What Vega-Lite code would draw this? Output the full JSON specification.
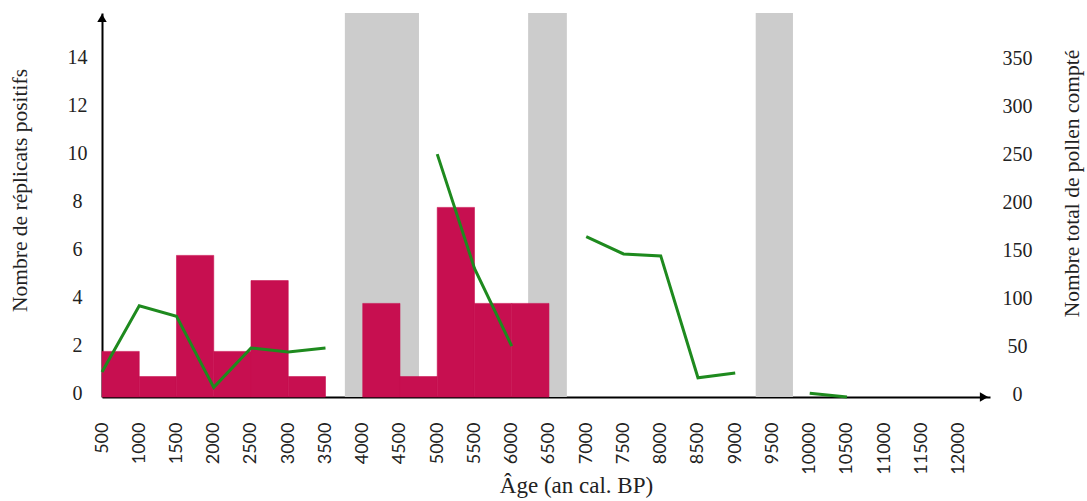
{
  "$schema": "https://vega.github.io/schema/vega-lite/v6.json",
  "width": 888,
  "height": 384,
  "autosize": "none",
  "padding": {"left": 102, "top": 13, "right": 97, "bottom": 104},
  "background": "white",
  "config": {
    "view": {"stroke": null},
    "font": "Liberation Serif",
    "axis": {
      "grid": false,
      "ticks": false,
      "domainColor": "black",
      "domainWidth": 2,
      "labelFont": "Liberation Serif",
      "titleFont": "Liberation Serif",
      "labelColor": "#222222",
      "titleColor": "#222222",
      "titleFontWeight": "normal"
    }
  },
  "datasets": {
    "bands": [
      {"start": 3760, "end": 4755},
      {"start": 6220, "end": 6740},
      {"start": 9275, "end": 9775}
    ],
    "bars": [
      {"start": 500, "end": 1000, "n": 1.9},
      {"start": 1000, "end": 1500, "n": 0.85},
      {"start": 1500, "end": 2000, "n": 5.9},
      {"start": 2000, "end": 2500, "n": 1.9},
      {"start": 2500, "end": 3000, "n": 4.85},
      {"start": 3000, "end": 3500, "n": 0.85},
      {"start": 4000, "end": 4500, "n": 3.9},
      {"start": 4500, "end": 5000, "n": 0.85},
      {"start": 5000, "end": 5500, "n": 7.9},
      {"start": 5500, "end": 6000, "n": 3.9},
      {"start": 6000, "end": 6500, "n": 3.9}
    ],
    "pollen": [
      {"start": 500, "pollen": 26, "seg": 1},
      {"start": 1000, "pollen": 95, "seg": 1},
      {"start": 1500, "pollen": 84, "seg": 1},
      {"start": 2000, "pollen": 10, "seg": 1},
      {"start": 2500, "pollen": 51, "seg": 1},
      {"start": 3000, "pollen": 47, "seg": 1},
      {"start": 3500, "pollen": 51, "seg": 1},
      {"start": 5000, "pollen": 253, "seg": 2},
      {"start": 5500, "pollen": 134, "seg": 2},
      {"start": 6000, "pollen": 53, "seg": 2},
      {"start": 7000, "pollen": 167, "seg": 3},
      {"start": 7500, "pollen": 149, "seg": 3},
      {"start": 8000, "pollen": 147, "seg": 3},
      {"start": 8500, "pollen": 20, "seg": 3},
      {"start": 9000, "pollen": 25, "seg": 3},
      {"start": 10000, "pollen": 4, "seg": 4},
      {"start": 10500, "pollen": 0, "seg": 4}
    ],
    "arrowY": [{"start": 500, "y": 16}],
    "arrowX": [{"start": 12420, "y": 0}]
  },
  "encoding": {
    "x": {
      "field": "start",
      "type": "quantitative",
      "scale": {"domain": [500, 12420], "nice": false, "zero": false},
      "axis": {
        "title": "Âge (an cal. BP)",
        "values": [500, 1000, 1500, 2000, 2500, 3000, 3500, 4000, 4500, 5000, 5500, 6000, 6500, 7000, 7500, 8000, 8500, 9000, 9500, 10000, 10500, 11000, 11500, 12000],
        "format": "d",
        "labelAngle": -90,
        "labelFont": "Lato",
        "labelFontSize": 18,
        "labelPadding": 25,
        "labelFlush": false,
        "labelOverlap": false,
        "titleFontSize": 23,
        "titleX": 474,
        "titleY": 88,
        "titleBaseline": "middle",
        "titleAlign": "center"
      }
    }
  },
  "layer": [
    {
      "data": {"name": "bands"},
      "mark": {"type": "rect", "color": "#cccccc"},
      "encoding": {"x2": {"field": "end"}}
    },
    {
      "data": {"name": "bars"},
      "mark": {"type": "rect", "color": "#c70f50", "stroke": "#c70f50", "strokeWidth": 0.6},
      "encoding": {
        "x2": {"field": "end"},
        "y": {
          "field": "n",
          "type": "quantitative",
          "scale": {"domain": [0, 16], "nice": false},
          "axis": {
            "orient": "left",
            "values": [0, 2, 4, 6, 8, 10, 12, 14],
            "title": "Nombre de réplicats positifs",
            "labelFontSize": 20,
            "labelAlign": "center",
            "labelPadding": 25,
            "labelOffset": -4,
            "titleFontSize": 21.5,
            "titleAngle": -90,
            "titleX": -82,
            "titleY": 177,
            "titleAlign": "center",
            "titleBaseline": "middle"
          }
        },
        "y2": {"datum": 0}
      }
    },
    {
      "data": {"name": "pollen"},
      "mark": {"type": "line", "color": "#1e8a1e", "strokeWidth": 3},
      "encoding": {
        "y": {
          "field": "pollen",
          "type": "quantitative",
          "scale": {"domain": [0, 400], "nice": false},
          "axis": {
            "orient": "right",
            "values": [0, 50, 100, 150, 200, 250, 300, 350],
            "title": "Nombre total de pollen compté",
            "domain": false,
            "labelFontSize": 20,
            "labelAlign": "center",
            "labelPadding": 27,
            "labelOffset": -3,
            "titleFontSize": 21.5,
            "titleAngle": -90,
            "titleX": 82,
            "titleY": 170,
            "titleAlign": "center",
            "titleBaseline": "middle"
          }
        },
        "detail": {"field": "seg", "type": "nominal"}
      }
    },
    {
      "data": {"name": "arrowY"},
      "mark": {"type": "point", "shape": "triangle-up", "filled": true, "color": "black", "size": 90, "opacity": 1, "yOffset": 5},
      "encoding": {
        "y": {"field": "y", "type": "quantitative", "scale": {"domain": [0, 16], "nice": false}, "axis": null}
      }
    },
    {
      "data": {"name": "arrowX"},
      "mark": {"type": "point", "shape": "triangle-right", "filled": true, "color": "black", "size": 90, "opacity": 1, "xOffset": -6},
      "encoding": {
        "y": {"field": "y", "type": "quantitative", "scale": {"domain": [0, 16], "nice": false}, "axis": null}
      }
    }
  ],
  "resolve": {"scale": {"y": "independent"}}
}
